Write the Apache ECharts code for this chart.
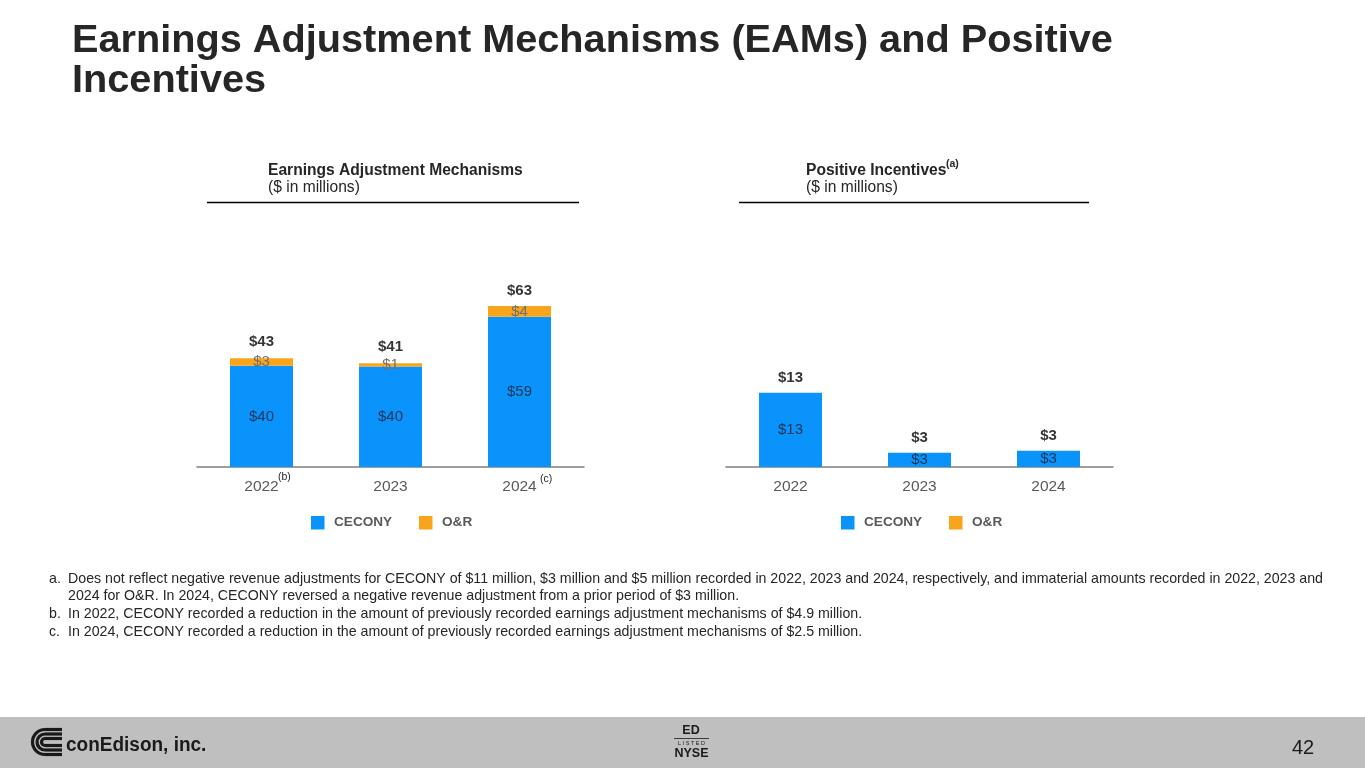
<!DOCTYPE html>
<html>
<head>
<meta charset="utf-8">
<script src="https://cdn.jsdelivr.net/npm/echarts@6/dist/echarts.min.js"></script>
<style>
html,body{margin:0;padding:0;background:#fff;}
#c{width:1365px;height:768px;}
</style>
</head>
<body>
<div id="c"></div>
<script>
// ---- data ----
const years = ['2022', '2023', '2024'];
const eamCecony = [39.6, 39.3, 58.8];
const eamOR = [3.0, 1.3, 4.2];
const eamCeconyLabels = ['$40', '$40', '$59'];
const eamORLabels = ['$3', '$1', '$4'];
const eamTotals = [43, 41, 63];
const piCecony = [13, 2.5, 2.85];
const piCeconyLabels = ['$13', '$3', '$3'];
const piTotalLabels = ['$13', '$3', '$3'];

const BLUE = '#0a93fb';
const ORANGE = '#f9a51c';
const FONT = 'Liberation Sans';

const chart = echarts.init(document.getElementById('c'));

function catAxis(gi) {
  return {
    type: 'category', gridIndex: gi, data: years,
    axisLine: {show: true, lineStyle: {color: '#7f7f7f', width: 1.5}},
    axisTick: {show: false},
    axisLabel: {color: '#595959', fontSize: 15.5, fontFamily: FONT, margin: 12}
  };
}
function valAxis(gi, max) {
  return {type: 'value', gridIndex: gi, min: 0, max: max, show: false, splitLine: {show: false}};
}

const insideLabel = (arr, color) => ({
  show: true, position: 'inside', color: color, fontSize: 15, fontFamily: FONT,
  formatter: p => arr[p.dataIndex]
});

const footnotes = [
  ['a.', 'Does not reflect negative revenue adjustments for CECONY of $11 million, $3 million and $5 million recorded in 2022, 2023 and 2024, respectively, and immaterial amounts recorded in 2022, 2023 and', 580],
  ['', '2024 for O&R. In 2024, CECONY reversed a negative revenue adjustment from a prior period of $3 million.', 597],
  ['b.', 'In 2022, CECONY recorded a reduction in the amount of previously recorded earnings adjustment mechanisms of $4.9 million.', 615],
  ['c.', 'In 2024, CECONY recorded a reduction in the amount of previously recorded earnings adjustment mechanisms of $2.5 million.', 633]
];

function txt(x, y, text, size, weight, color, extra, props) {
  return Object.assign({type: 'text', x: x, y: y, style: Object.assign({
    text: text, fill: color || '#262626', fontSize: size, fontWeight: weight || 'normal', fontFamily: FONT
  }, extra || {})}, props || {});
}

const graphics = [];
// title
graphics.push(txt(72, 21, 'Earnings Adjustment Mechanisms (EAMs) and Positive\nIncentives', 39.7, 'bold', '#262626', {lineHeight: 40}));
// chart headers
graphics.push(txt(268, 163, 'Earnings Adjustment Mechanisms', 15.6, 'bold'));
graphics.push(txt(268, 180, '($ in millions)', 15.6));
graphics.push({type: 'line', shape: {x1: 207, y1: 202.5, x2: 579, y2: 202.5}, style: {stroke: '#000', lineWidth: 1.5}});
graphics.push(txt(806, 163, 'Positive Incentives', 15.6, 'bold'));
graphics.push(txt(946, 159, '(a)', 10.5, 'bold'));
graphics.push(txt(806, 180, '($ in millions)', 15.6));
graphics.push({type: 'line', shape: {x1: 739, y1: 202.5, x2: 1089, y2: 202.5}, style: {stroke: '#000', lineWidth: 1.5}});
// superscripts on axis labels
graphics.push(txt(278, 472, '(b)', 10.5));
graphics.push(txt(540, 474, '(c)', 10.5));
// legends
[[311, 334, 419, 442], [841, 864, 949, 972]].forEach(l => {
  graphics.push({type: 'rect', shape: {x: l[0], y: 516, width: 13.5, height: 13.5}, style: {fill: BLUE}});
  graphics.push(txt(l[1], 515.5, 'CECONY', 13.6, 'bold', '#595959'));
  graphics.push({type: 'rect', shape: {x: l[2], y: 516, width: 13.5, height: 13.5}, style: {fill: ORANGE}});
  graphics.push(txt(l[3], 515.5, 'O&R', 13.6, 'bold', '#595959'));
});
// footnotes
footnotes.forEach(f => {
  if (f[0]) graphics.push(txt(49, f[2] - 8, f[0], 14.2));
  graphics.push(txt(68, f[2] - 8, f[1], 14.2));
});
// footer
graphics.push({type: 'rect', shape: {x: 0, y: 717, width: 1365, height: 51}, style: {fill: '#bfbfbf'}, z: 0});
// logo icon: nested C shapes
[[12.5, 3.2], [8, 3.2], [3.5, 3.2]].forEach(a => {
  graphics.push({type: 'arc', shape: {cx: 45, cy: 742, r: a[0], startAngle: Math.PI / 2, endAngle: Math.PI * 1.5, clockwise: true}, style: {stroke: '#1a1a1a', lineWidth: a[1], fill: null}});
  graphics.push({type: 'line', shape: {x1: 45, y1: 742 - a[0], x2: 62, y2: 742 - a[0]}, style: {stroke: '#1a1a1a', lineWidth: a[1]}});
  graphics.push({type: 'line', shape: {x1: 45, y1: 742 + a[0], x2: 62, y2: 742 + a[0]}, style: {stroke: '#1a1a1a', lineWidth: a[1]}});
});
graphics.push(txt(66, 735, 'conEdison, inc.', 20, 'bold', '#1a1a1a', {}, {scaleX: 0.95}));
graphics.push(txt(691, 724, 'ED', 12.5, 'bold', '#1a1a1a', {align: 'center'}));
graphics.push({type: 'line', shape: {x1: 674, y1: 738.5, x2: 709, y2: 738.5}, style: {stroke: '#1a1a1a', lineWidth: 0.8}});
graphics.push(txt(691.5, 740, 'L I S T E D', 5.5, 'normal', '#1a1a1a', {align: 'center'}));
graphics.push(txt(691.5, 747, 'NYSE', 12.5, 'bold', '#1a1a1a', {align: 'center'}));
graphics.push(txt(1292, 738, '42', 20, 'normal', '#1a1a1a'));

const totalLabel = fmt => ({show: true, position: 'top', distance: 7, color: '#000', fontWeight: 'bold', fontSize: 15, fontFamily: FONT, formatter: fmt});

const option = {
  animation: false,
  backgroundColor: '#ffffff',
  textStyle: {fontFamily: FONT},
  grid: [
    {left: 197, width: 387, top: 467 - 70 * 2.555, bottom: 301},
    {left: 726, width: 387, top: 467 - 15 * 5.715, bottom: 301}
  ],
  xAxis: [catAxis(0), catAxis(1)],
  yAxis: [valAxis(0, 70), valAxis(1, 15)],
  series: [
    {type: 'bar', name: 'CECONY', xAxisIndex: 0, yAxisIndex: 0, stack: 'eam', data: eamCecony, barWidth: 63,
      itemStyle: {color: BLUE}, label: insideLabel(eamCeconyLabels, '#1d3557')},
    {type: 'bar', name: 'O&R', xAxisIndex: 0, yAxisIndex: 0, stack: 'eam', data: eamOR, barWidth: 63,
      itemStyle: {color: ORANGE}, label: insideLabel(eamORLabels, '#707070')},
    {type: 'scatter', xAxisIndex: 0, yAxisIndex: 0, data: eamTotals, symbolSize: 1, itemStyle: {color: 'rgba(0,0,0,0)'},
      label: totalLabel(p => '$' + p.value)},
    {type: 'bar', name: 'CECONY', xAxisIndex: 1, yAxisIndex: 1, stack: 'pi', data: piCecony, barWidth: 63,
      itemStyle: {color: BLUE}, label: insideLabel(piCeconyLabels, '#1d3557')},
    {type: 'scatter', xAxisIndex: 1, yAxisIndex: 1, data: piCecony, symbolSize: 1, itemStyle: {color: 'rgba(0,0,0,0)'},
      label: totalLabel(p => piTotalLabels[p.dataIndex])}
  ],
  graphic: graphics
};
chart.setOption(option);
</script>
</body>
</html>
